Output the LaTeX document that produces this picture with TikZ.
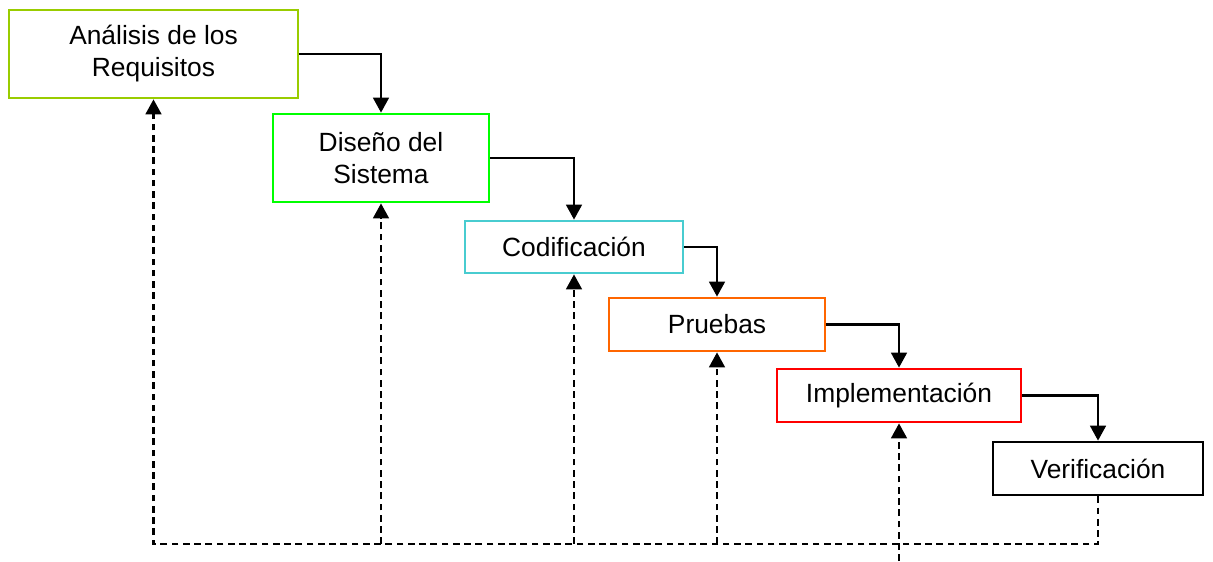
\documentclass[tikz,border=0pt]{standalone}
\usepackage{fontspec}
\setmainfont{Liberation Sans}
\usepackage{xcolor}
\usepackage{tikz}
\usetikzlibrary{arrows.meta}
\definecolor{wflime}{RGB}{153, 204, 0}
\definecolor{wfgreen}{RGB}{0, 255, 0}
\definecolor{wfcyan}{RGB}{72, 204, 208}
\definecolor{wforange}{RGB}{255, 102, 0}
\definecolor{wfred}{RGB}{255, 0, 0}

\begin{document}
\begin{tikzpicture}[
    phase/.style={draw, line width=1.6pt, fill=white, align=center, inner sep=0pt,
        font=\fontsize{15}{18.2}\selectfont},
    flow/.style={line width=1.2pt, -{Triangle[width=9pt,length=8.5pt]}},
    back/.style={line width=1.2pt, dash pattern=on 3.8pt off 2.6pt,
        -{Triangle[width=9pt,length=8.5pt]}},
    bus/.style={line width=1.2pt, dash pattern=on 3.8pt off 2.6pt}]
\useasboundingbox (0,0) rectangle (24.26,11.22);

% Phases
\node[phase, draw=wflime, minimum width=5.78cm, minimum height=1.76cm] (req) at (3.07,10.14) {Análisis de los\\Requisitos};
\node[phase, draw=wfgreen, minimum width=4.32cm, minimum height=1.76cm] (des) at (7.62,8.06) {Diseño del\\Sistema};
\node[phase, draw=wfcyan, minimum width=4.36cm, minimum height=1.04cm] (cod) at (11.48,6.28) {Codificación};
\node[phase, draw=wforange, minimum width=4.32cm, minimum height=1.06cm] (pru) at (14.34,4.73) {Pruebas};
\node[phase, draw=wfred, minimum width=4.88cm, minimum height=1.06cm] (imp) at (17.98,3.31) {Implementación};
\node[phase, draw=black, minimum width=4.2cm, minimum height=1.06cm] (ver) at (21.96,1.85) {Verificación};

% Forward steps
\draw[flow] (req.east) -| (des.north);
\draw[flow] (des.east) -| (cod.north);
\draw[flow] (cod.east) -| (pru.north);
\draw[flow] (pru.east) -| (imp.north);
\draw[flow] (imp.east) -| (ver.north);

% Feedback
\coordinate (line) at (0,0.34);
\coordinate (foot) at (imp.south |- 0,0);
\draw[back] (ver.south) -- (ver.south |- line) -- (req.south |- line) -- (req.south);
\draw[back] (des.south |- line) -- (des.south);
\draw[back] (cod.south |- line) -- (cod.south);
\draw[back] (pru.south |- line) -- (pru.south);
\draw[back] (foot) -- (imp.south);
\end{tikzpicture}
\end{document}
